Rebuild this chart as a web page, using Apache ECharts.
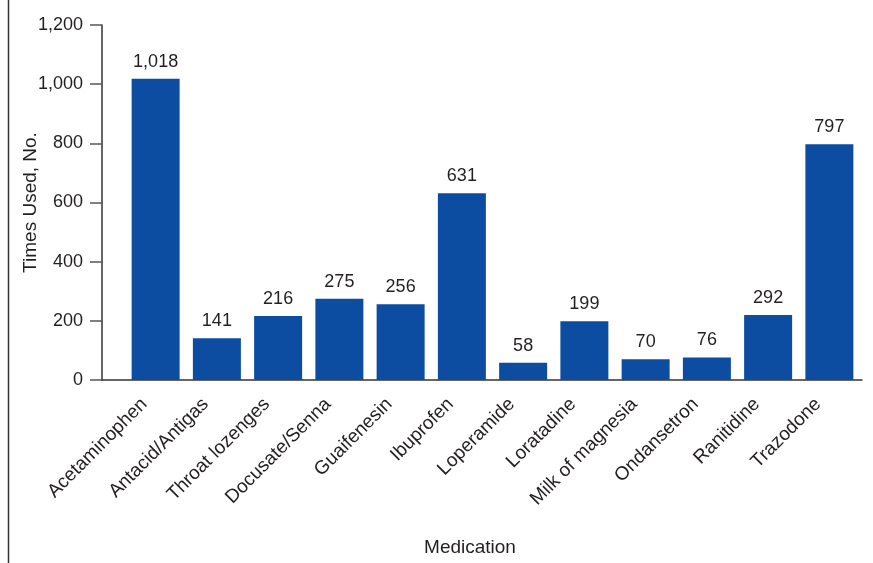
<!DOCTYPE html>
<html>
<head>
<meta charset="utf-8">
<title>Medication use</title>
<script src="https://cdn.jsdelivr.net/npm/echarts@6/dist/echarts.min.js"></script>
<style>
  html, body { margin: 0; padding: 0; background: #fff; }
  #chart { width: 873px; height: 563px; }
</style>
</head>
<body>
<div id="chart"></div>
<script>
// data
var medications = ['Acetaminophen', 'Antacid/Antigas', 'Throat lozenges', 'Docusate/Senna', 'Guaifenesin',
  'Ibuprofen', 'Loperamide', 'Loratadine', 'Milk of magnesia', 'Ondansetron', 'Ranitidine', 'Trazodone'];
// bar heights as drawn
var timesUsed = [1018, 141, 216, 275, 256, 631, 58, 199, 70, 76, 220, 797];
// numbers printed above the bars (Ranitidine is printed 292 though its bar is lower)
var printedLabels = ['1,018', '141', '216', '275', '256', '631', '58', '199', '70', '76', '292', '797'];
var yTicks = [0, 200, 400, 600, 800, 1000, 1200];

var font = '"Liberation Sans", Arial, sans-serif';
var ink = '#231f20';

var myChart = echarts.init(document.getElementById('chart'));

var option = {
  animation: false,
  textStyle: { fontFamily: font, color: ink },
  grid: [
    { left: 125, right: 13, top: 25, bottom: 183 },   // bars
    { left: 102, right: 11, top: 25, bottom: 183 }    // axis frame
  ],
  xAxis: [
    {
      type: 'category',
      gridIndex: 0,
      data: medications,
      axisLine: { show: false },
      axisTick: { show: false },
      axisLabel: {
        rotate: 45, margin: 10, fontSize: 19, color: ink, fontFamily: font, interval: 0,
        padding: [0, 16, 0, 0]
      }
    },
    {
      type: 'value',
      gridIndex: 1,
      min: 0, max: 1,
      axisLine: { show: true, lineStyle: { color: '#333', width: 1.5 } },
      axisTick: { show: false },
      axisLabel: { show: false },
      splitLine: { show: false },
      name: 'Medication',
      nameLocation: 'middle',
      nameGap: 158,
      nameMoveOverlap: false,
      nameTextStyle: { fontSize: 19, color: ink, fontFamily: font, padding: [0, 24, 0, 0] }
    }
  ],
  yAxis: [
    {
      type: 'value',
      gridIndex: 0,
      min: 0, max: yTicks[yTicks.length - 1], interval: 200,
      show: false
    },
    {
      type: 'value',
      gridIndex: 1,
      min: yTicks[0], max: yTicks[yTicks.length - 1], interval: 200,
      axisLine: { show: true, lineStyle: { color: '#333', width: 1.5 } },
      axisTick: { show: true, length: 12, lineStyle: { color: '#555', width: 1.5 } },
      axisLabel: {
        fontSize: 18, color: ink, fontFamily: font, margin: 19,
        formatter: function (v) { return v.toLocaleString('en-US'); }
      },
      splitLine: { show: false },
      name: 'Times Used, No.',
      nameLocation: 'middle',
      nameGap: 62,
      nameMoveOverlap: false,
      nameTextStyle: { fontSize: 19, color: ink, fontFamily: font }
    }
  ],
  series: [{
    type: 'bar',
    xAxisIndex: 0,
    yAxisIndex: 0,
    data: timesUsed,
    barWidth: 48,
    itemStyle: { color: '#0c4da2' },
    label: {
      show: true,
      position: 'top',
      distance: 8,
      fontSize: 18,
      color: ink,
      fontFamily: font,
      formatter: function (p) { return printedLabels[p.dataIndex]; }
    }
  }],
  graphic: [{
    type: 'line',
    shape: { x1: 8.5, y1: 0, x2: 8.5, y2: 563 },
    style: { stroke: '#333', lineWidth: 1.5 }
  }]
};

myChart.setOption(option);
</script>
</body>
</html>
